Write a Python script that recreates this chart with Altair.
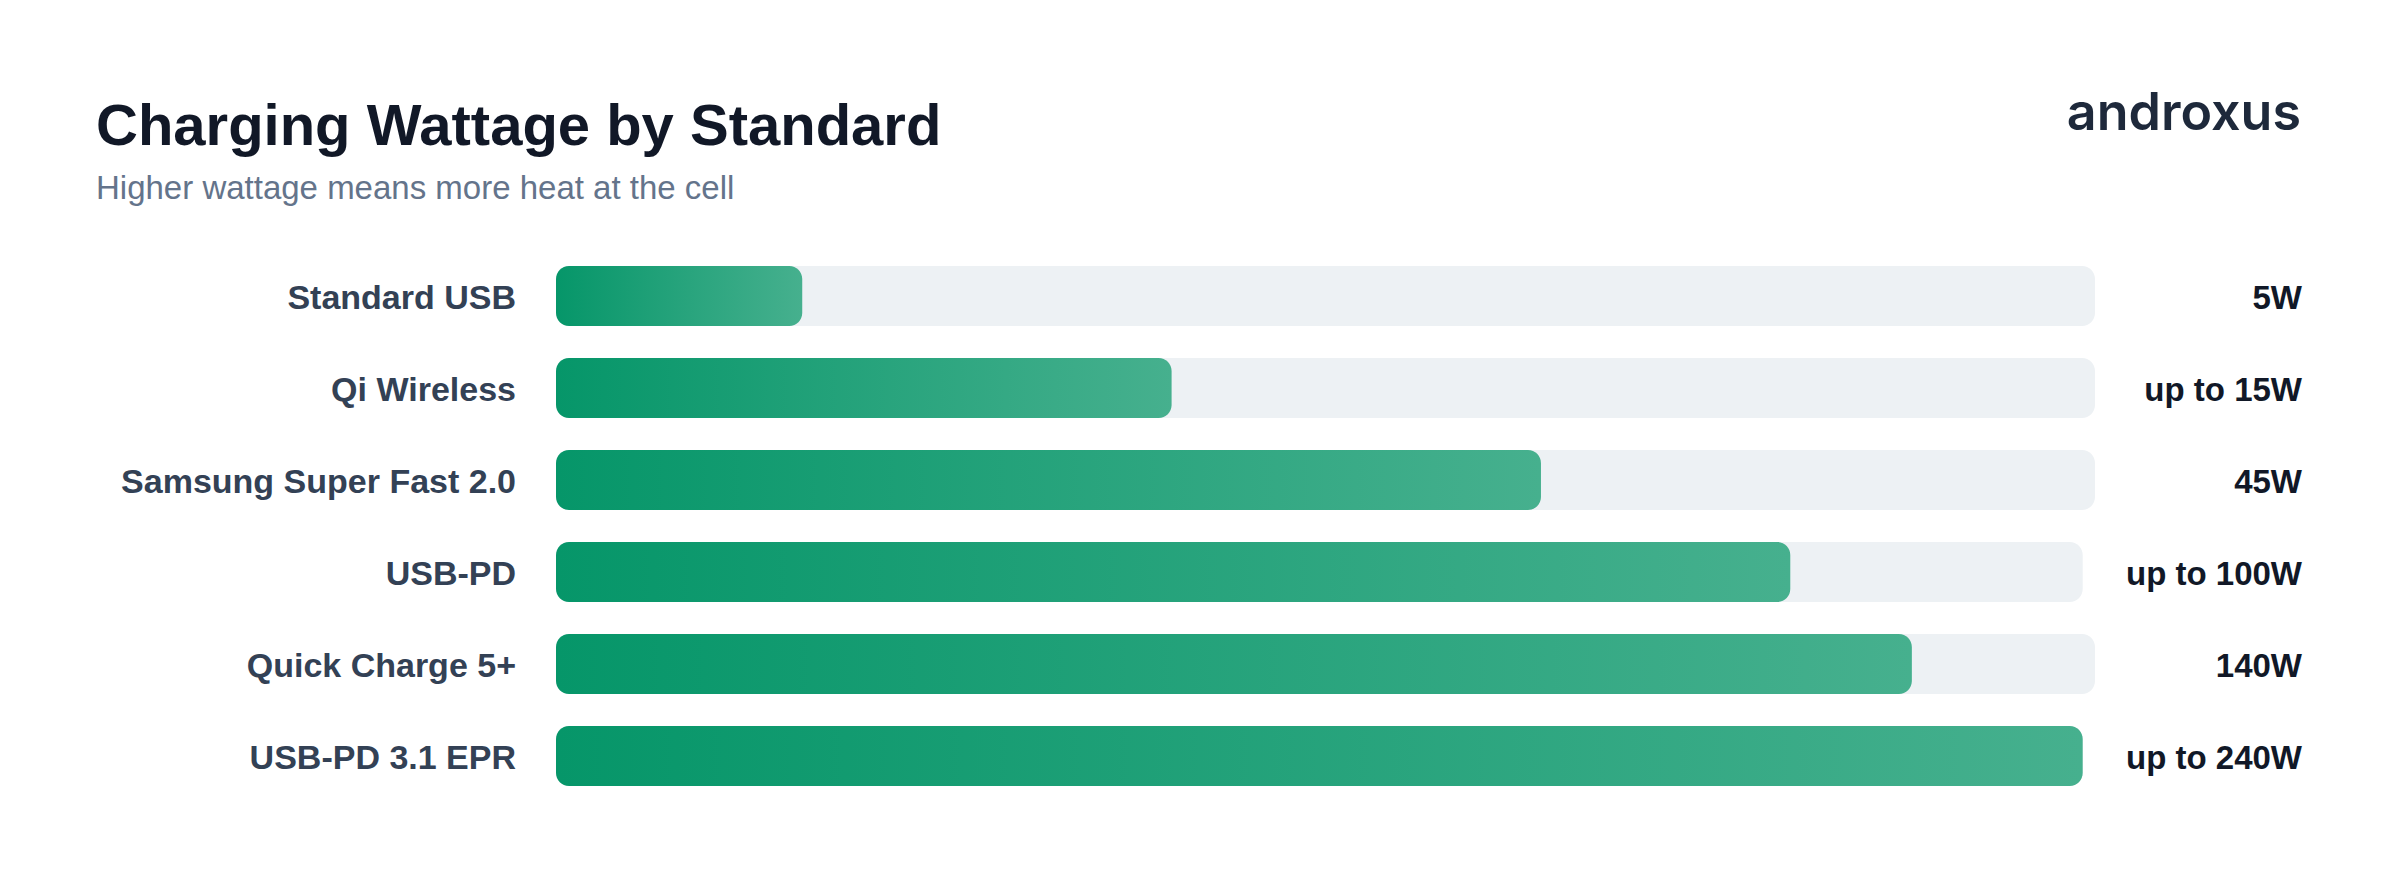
import altair as alt
import pandas as pd

# ---- data ----
standards = ["Standard USB", "Qi Wireless", "Samsung Super Fast 2.0",
             "USB-PD", "Quick Charge 5+", "USB-PD 3.1 EPR"]
wattage_labels = ["5W", "up to 15W", "45W", "up to 100W", "140W", "up to 240W"]
fill_pct = [16.0, 40.0, 64.0, 80.2, 88.1, 99.2]      # bar fill length (% of track)
track_pct = [100, 100, 100, 99.2, 100, 99.2]         # grey track length (%)

title_text = "Charging Wattage by Standard"
subtitle_text = "Higher wattage means more heat at the cell"
brand_text = "androxus"

df = pd.DataFrame({
    "standard": standards,
    "watt": wattage_labels,
    "fill": fill_pct,
    "track": track_pct,
})
df["start"] = 0

FONT = "Liberation Sans"

xs = alt.Scale(domain=[0, 100], range=[556, 2095])
ys = alt.Scale(domain=standards, range=[266, 786], paddingInner=0.348, paddingOuter=0)

base = alt.Chart(df).encode(
    y=alt.Y("standard:N", sort=standards, scale=ys, axis=None)
)

track = base.mark_bar(color="#edf1f4", cornerRadius=13).encode(
    x=alt.X("start:Q", scale=xs, axis=None),
    x2="track:Q",
)

grad = alt.Gradient(
    gradient="linear",
    stops=[alt.GradientStop(color="#069669", offset=0),
           alt.GradientStop(color="#46b08e", offset=1)],
    x1=0, x2=1, y1=0, y2=0,
)
fill = base.mark_bar(color=grad, cornerRadius=13).encode(
    x=alt.X("start:Q", scale=xs, axis=None),
    x2="fill:Q",
)

cat_labels = base.mark_text(
    align="right", baseline="middle", font=FONT, fontSize=34, dy=3,
    fontWeight="bold", color="#334155",
).encode(x=alt.value(516), text="standard:N")

val_labels = base.mark_text(
    align="right", baseline="middle", font=FONT, fontSize=33, dy=3,
    fontWeight="bold", color="#111827",
).encode(x=alt.value(2302), text="watt:N")

txt_df = pd.DataFrame({"title": [title_text], "sub": [subtitle_text], "brand": [brand_text]})

title = alt.Chart(txt_df).mark_text(
    align="left", baseline="alphabetic", font=FONT, fontSize=58,
    fontWeight="bold", color="#111827",
).encode(x=alt.value(96), y=alt.value(145), text="title:N")

subtitle = alt.Chart(txt_df).mark_text(
    align="left", baseline="alphabetic", font=FONT, fontSize=33,
    color="#64748b",
).encode(x=alt.value(96), y=alt.value(199), text="sub:N")

brand = alt.Chart(txt_df).mark_text(
    align="right", baseline="alphabetic", font="Inter", fontSize=52,
    fontWeight=600, color="#1e293b",
).encode(x=alt.value(2301), y=alt.value(130), text="brand:N")

chart = alt.layer(track, fill, cat_labels, val_labels, title, subtitle, brand).properties(
    width=2400, height=882,
    autosize=alt.AutoSizeParams(type="none"),
    padding=0,
    background="#ffffff",
).configure_view(stroke=None)

chart.save("out.html", embed_options={"renderer": "svg", "actions": False})
